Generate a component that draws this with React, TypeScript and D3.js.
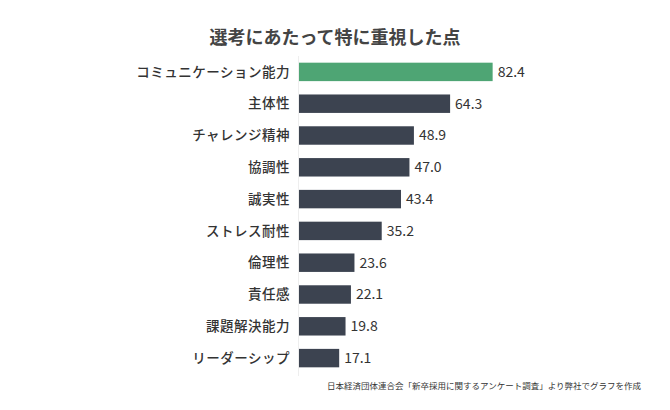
import { useEffect, useRef } from "react";
import * as d3 from "d3";

// items and scores (%)
const labels = [
  "コミュニケーション能力",
  "主体性",
  "チャレンジ精神",
  "協調性",
  "誠実性",
  "ストレス耐性",
  "倫理性",
  "責任感",
  "課題解決能力",
  "リーダーシップ",
];
const values = [82.4, 64.3, 48.9, 47.0, 43.4, 35.2, 23.6, 22.1, 19.8, 17.1];

const title = "選考にあたって特に重視した点";
const source = "日本経済団体連合会「新卒採用に関するアンケート調査」より弊社でグラフを作成";

const FONT = "'Noto Sans CJK JP', 'Noto Sans', sans-serif";

function App() {
  const svgRef = useRef<SVGSVGElement | null>(null);

  useEffect(() => {
    const svg = d3.select(svgRef.current);
    svg.selectAll("*").remove();

    const width = 670;
    const margin = { top: 56, left: 299 };

    // vertical band scale for the categories
    const y = d3
      .scaleBand()
      .domain(labels)
      .range([margin.top, margin.top + 318])
      .paddingInner(0.42)
      .paddingOuter(0.21);

    // horizontal scale for the values
    const x = d3.scaleLinear().domain([0, 100]).range([margin.left, margin.left + 235]);

    svg
      .append("rect")
      .attr("width", width)
      .attr("height", 410)
      .attr("fill", "#ffffff");

    // title
    svg
      .append("text")
      .attr("x", 335)
      .attr("y", 44)
      .attr("text-anchor", "middle")
      .attr("font-family", FONT)
      .attr("font-size", 18)
      .attr("font-weight", 700)
      .attr("fill", "#444")
      .text(title);

    // faint axis line
    svg
      .append("line")
      .attr("x1", x(0) - 0.5)
      .attr("x2", x(0) - 0.5)
      .attr("y1", margin.top)
      .attr("y2", margin.top + 320)
      .attr("stroke", "#eeeeee");

    const rows = svg
      .selectAll("g.row")
      .data(labels)
      .join("g")
      .attr("class", "row");

    rows
      .append("rect")
      .attr("x", x(0))
      .attr("y", (d) => y(d)!)
      .attr("width", (d, i) => x(values[i]) - x(0))
      .attr("height", y.bandwidth())
      .attr("fill", (d, i) => (i === 0 ? "#4ea574" : "#3c4350"));

    // category labels
    rows
      .append("text")
      .attr("x", x(0) - 9)
      .attr("y", (d) => y(d)! + y.bandwidth() / 2)
      .attr("dy", "0.35em")
      .attr("text-anchor", "end")
      .attr("font-family", FONT)
      .attr("font-size", 13.5)
      .attr("letter-spacing", 0.5)
      .attr("font-weight", 500)
      .attr("fill", "#333")
      .text((d) => d);

    // value labels
    rows
      .append("text")
      .attr("x", (d, i) => x(values[i]) + 5)
      .attr("y", (d) => y(d)! + y.bandwidth() / 2)
      .attr("dy", "0.35em")
      .attr("font-family", FONT)
      .attr("font-size", 14)
      .attr("fill", "#333")
      .text((d, i) => values[i].toFixed(1));

    // source note
    svg
      .append("text")
      .attr("x", 641)
      .attr("y", 389)
      .attr("text-anchor", "end")
      .attr("font-family", FONT)
      .attr("font-size", 8.5)
      .attr("fill", "#333")
      .text(source);
  }, []);

  return <svg ref={svgRef} width={670} height={410} style={{ display: "block", margin: -8 }} />;
}

export default App;
